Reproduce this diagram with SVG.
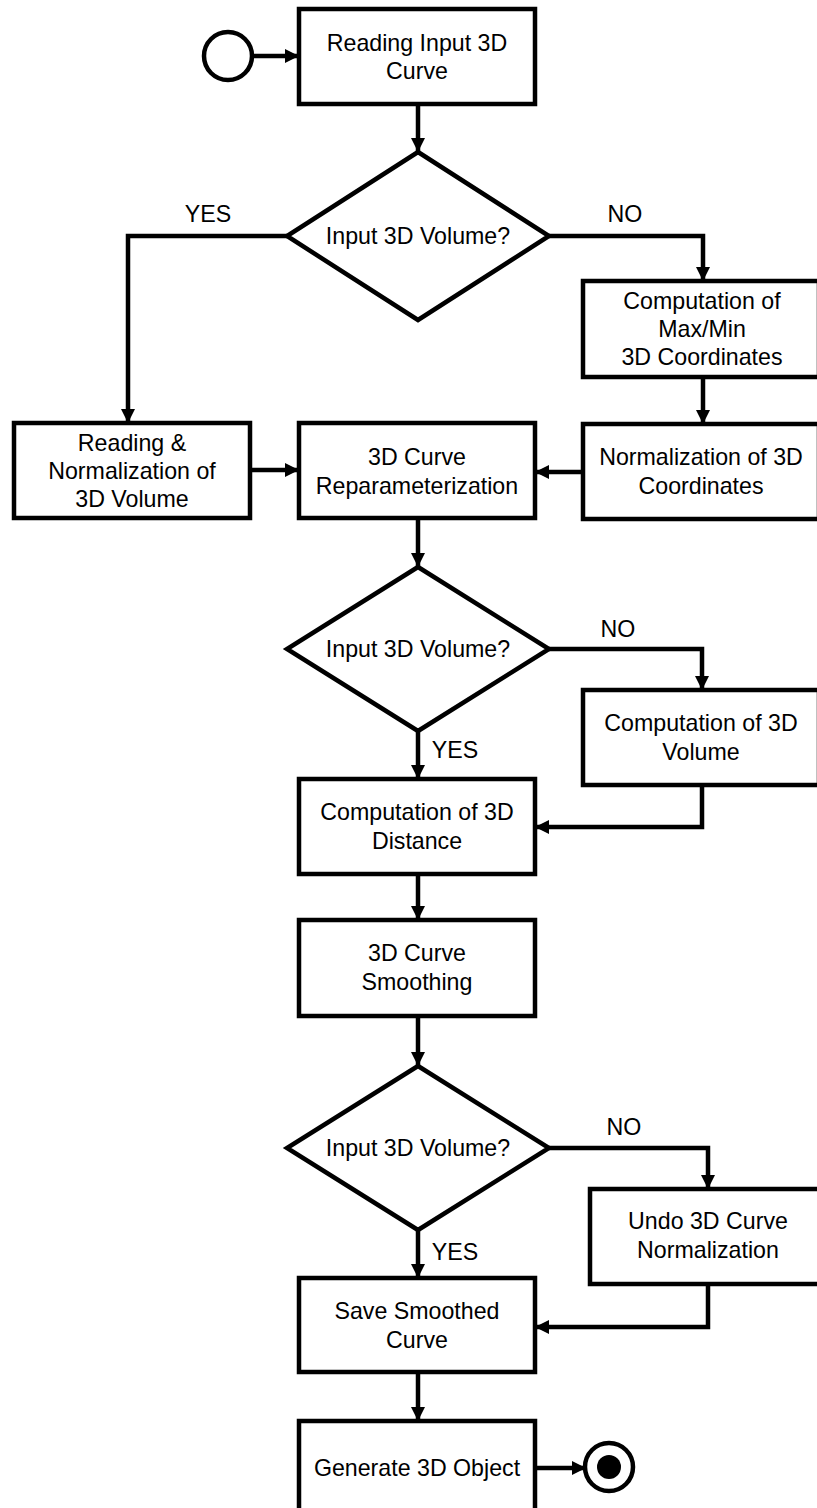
<svg xmlns="http://www.w3.org/2000/svg" width="817" height="1508" viewBox="0 0 817 1508">
<style>
.box{fill:#fff;stroke:#000;stroke-width:4.5}
.t{font-family:"Liberation Sans",Arial,sans-serif;font-size:23.2px;fill:#000;text-anchor:middle}
.c{fill:none;stroke:#000;stroke-width:4.5}
</style>
<defs>
<marker id="ah" markerUnits="userSpaceOnUse" markerWidth="14" markerHeight="14" refX="13" refY="7" orient="auto">
<path d="M0,0 L14,7 L0,14 z" fill="#000"/>
</marker>
</defs>
<rect width="817" height="1508" fill="#fff"/>
<g id="connectors">
<path class="c" d="M253,56 H298" marker-end="url(#ah)"/>
<path class="c" d="M418,104 V151" marker-end="url(#ah)"/>
<path class="c" d="M287,236 H128 V422" marker-end="url(#ah)"/>
<path class="c" d="M549,236 H703 V280" marker-end="url(#ah)"/>
<path class="c" d="M703,377 V423" marker-end="url(#ah)"/>
<path class="c" d="M250,470 H298" marker-end="url(#ah)"/>
<path class="c" d="M583,472 H536" marker-end="url(#ah)"/>
<path class="c" d="M418,518 V566" marker-end="url(#ah)"/>
<path class="c" d="M549,649 H702 V689" marker-end="url(#ah)"/>
<path class="c" d="M418,731 V778" marker-end="url(#ah)"/>
<path class="c" d="M702,785 V827 H536" marker-end="url(#ah)"/>
<path class="c" d="M418,874 V919" marker-end="url(#ah)"/>
<path class="c" d="M418,1016 V1065" marker-end="url(#ah)"/>
<path class="c" d="M549,1148 H708 V1188" marker-end="url(#ah)"/>
<path class="c" d="M418,1230 V1277" marker-end="url(#ah)"/>
<path class="c" d="M708,1284 V1327 H536" marker-end="url(#ah)"/>
<path class="c" d="M418,1372 V1420" marker-end="url(#ah)"/>
<path class="c" d="M535,1468 H585" marker-end="url(#ah)"/>
<text class="t" x="208" y="222">YES</text>
<text class="t" x="625" y="222">NO</text>
<text class="t" x="618" y="637">NO</text>
<text class="t" x="455" y="758">YES</text>
<text class="t" x="624" y="1135">NO</text>
<text class="t" x="455" y="1260">YES</text>
</g>
<g id="start"><circle cx="228" cy="56" r="24" fill="#fff" stroke="#000" stroke-width="4.5"/></g>
<g id="n1"><rect class="box" x="299" y="9" width="236" height="95"/>
<text class="t" x="417" y="51">Reading Input 3D</text><text class="t" x="417" y="79">Curve</text></g>
<g id="d1"><polygon class="box" points="418,152 549,236 418,320 287,236"/>
<text class="t" x="418" y="244">Input 3D Volume?</text></g>
<g id="n2"><rect class="box" x="583" y="281" width="236" height="96"/>
<text class="t" x="702" y="309">Computation of</text><text class="t" x="702" y="337">Max/Min</text><text class="t" x="702" y="365">3D Coordinates</text></g>
<g id="n3"><rect class="box" x="14" y="423" width="236" height="95"/>
<text class="t" x="132" y="451">Reading &amp;</text><text class="t" x="132" y="479">Normalization of</text><text class="t" x="132" y="507">3D Volume</text></g>
<g id="n4"><rect class="box" x="299" y="423" width="236" height="95"/>
<text class="t" x="417" y="465">3D Curve</text><text class="t" x="417" y="494">Reparameterization</text></g>
<g id="n5"><rect class="box" x="583" y="424" width="236" height="95"/>
<text class="t" x="701" y="465">Normalization of 3D</text><text class="t" x="701" y="494">Coordinates</text></g>
<g id="d2"><polygon class="box" points="418,567 549,649 418,731 287,649"/>
<text class="t" x="418" y="657">Input 3D Volume?</text></g>
<g id="n6"><rect class="box" x="583" y="690" width="236" height="95"/>
<text class="t" x="701" y="731">Computation of 3D</text><text class="t" x="701" y="760">Volume</text></g>
<g id="n7"><rect class="box" x="299" y="779" width="236" height="95"/>
<text class="t" x="417" y="820">Computation of 3D</text><text class="t" x="417" y="849">Distance</text></g>
<g id="n8"><rect class="box" x="299" y="920" width="236" height="96"/>
<text class="t" x="417" y="961">3D Curve</text><text class="t" x="417" y="990">Smoothing</text></g>
<g id="d3"><polygon class="box" points="418,1066 549,1148 418,1230 287,1148"/>
<text class="t" x="418" y="1156">Input 3D Volume?</text></g>
<g id="n9"><rect class="box" x="590" y="1189" width="230" height="95"/>
<text class="t" x="708" y="1229">Undo 3D Curve</text><text class="t" x="708" y="1258">Normalization</text></g>
<g id="n10"><rect class="box" x="299" y="1278" width="236" height="94"/>
<text class="t" x="417" y="1319">Save Smoothed</text><text class="t" x="417" y="1348">Curve</text></g>
<g id="n11"><rect class="box" x="299" y="1421" width="236" height="100"/>
<text class="t" x="417" y="1476">Generate 3D Object</text></g>
<g id="end"><circle cx="609" cy="1467" r="24" fill="#fff" stroke="#000" stroke-width="4.5"/><circle cx="609" cy="1467" r="12" fill="#000"/></g>
</svg>
